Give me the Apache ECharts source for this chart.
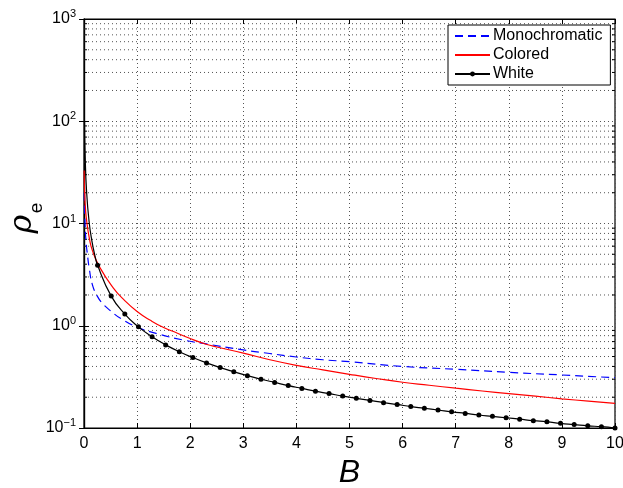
<!DOCTYPE html>
<html><head><meta charset="utf-8">
<script src="https://cdn.jsdelivr.net/npm/echarts@6/dist/echarts.min.js"></script>
<style>html,body{margin:0;padding:0;background:#fff}#c{width:623px;height:488px}</style>
</head><body><div id="c"></div>
<script>
// Monochromatic (blue dashed)
const monoB   = [0.005, 0.02, 0.04, 0.06, 0.1, 0.16, 0.25, 0.35, 0.5, 0.7, 1.0, 1.4, 1.9, 2.33, 3.0, 3.5, 4.0, 4.5, 5.0, 6.0, 7.0, 8.0, 9.0, 10.0];
const monoRho = [20, 9.8, 6.5, 5.2, 3.6, 2.5, 1.95, 1.65, 1.40, 1.17, 0.97, 0.83, 0.72, 0.66, 0.58, 0.535, 0.495, 0.465, 0.445, 0.40, 0.375, 0.35, 0.33, 0.31];
// Colored (red)
const colB   = [0.003, 0.02, 0.05, 0.1, 0.16, 0.3, 0.55, 0.75, 1.0, 1.25, 1.5, 1.75, 2.0, 2.3, 2.5, 3.0, 3.5, 4.0, 4.5, 5.0, 5.5, 6.0, 6.5, 7.0, 7.5, 8.0, 8.5, 9.0, 9.5, 10.0];
const colRho = [33, 16, 10.6, 7.2, 5.4, 3.7, 2.35, 1.8, 1.38, 1.13, 0.96, 0.85, 0.75, 0.66, 0.62, 0.54, 0.465, 0.41, 0.37, 0.335, 0.305, 0.28, 0.262, 0.245, 0.23, 0.217, 0.205, 0.193, 0.183, 0.174];
// White (black with dots) - steep start without markers
const whiteLeadB   = [0.01, 0.02, 0.05, 0.1, 0.15, 0.2];
const whiteLeadRho = [100, 50, 20, 10, 6.7, 5.0];
// White - marker points
const whiteB   = [0.256, 0.513, 0.769, 1.026, 1.282, 1.538, 1.795, 2.051, 2.308, 2.564, 2.821, 3.077, 3.333, 3.590, 3.846, 4.103, 4.359, 4.615, 4.872, 5.128, 5.385, 5.641, 5.897, 6.154, 6.410, 6.667, 6.923, 7.179, 7.436, 7.692, 7.949, 8.205, 8.462, 8.718, 8.974, 9.231, 9.487, 9.744, 10.0];
const whiteRho = [3.9, 1.95, 1.3, 0.975, 0.78, 0.65, 0.557, 0.488, 0.433, 0.39, 0.355, 0.325, 0.30, 0.279, 0.26, 0.244, 0.229, 0.217, 0.205, 0.195, 0.186, 0.177, 0.17, 0.162, 0.156, 0.15, 0.144, 0.139, 0.134, 0.13, 0.126, 0.122, 0.118, 0.115, 0.111, 0.108, 0.105, 0.103, 0.1];
// Axis ticks
const xTicks = [0,1,2,3,4,5,6,7,8,9,10];
const yMinorTicks = [0.2,0.3,0.4,0.5,0.6,0.7,0.8,0.9, 2,3,4,5,6,7,8,9, 20,30,40,50,60,70,80,90, 200,300,400,500,600,700,800,900];
// Axis titles
const xTitle = 'B';
const yTitleMain = 'ρ';
const yTitleSub = 'e';

const FONT = '"Liberation Sans", Arial, Helvetica, sans-serif';
const zip = (a, b) => a.map((v, i) => [v, b[i]]);
const whiteData = whiteLeadB.map((v, i) => ({value: [v, whiteLeadRho[i]], symbol: 'none'}))
  .concat(zip(whiteB, whiteRho));

const chart = echarts.init(document.getElementById('c'));
const dotted = {color: '#555', width: 1, type: [1, 3]};

chart.setOption({
  animation: false,
  backgroundColor: '#fff',
  textStyle: {fontFamily: FONT},
  grid: {left: 84, right: 8, top: 19, bottom: 60, outerBoundsMode: 'none', containLabel: false,
         show: true, borderColor: '#000', borderWidth: 1.2, backgroundColor: 'transparent'},
  graphic: [
    {type: 'text', x: 23, y: 224, rotation: Math.PI / 2,
     style: {text: yTitleMain, fontFamily: 'DejaVu Serif', fontStyle: 'italic', fontSize: 32, fill: '#000', align: 'center', verticalAlign: 'middle'}},
    {type: 'text', x: 37, y: 208, rotation: Math.PI / 2,
     style: {text: yTitleSub, fontFamily: FONT, fontSize: 19, fill: '#000', align: 'center', verticalAlign: 'middle'}}
  ],
  legend: {
    data: [
      {name: 'Monochromatic', itemStyle: {opacity: 0}},
      {name: 'Colored', itemStyle: {opacity: 0}},
      {name: 'White'}
    ],
    orient: 'vertical', left: 448, top: 25,
    backgroundColor: '#fff', borderColor: '#000', borderWidth: 1, borderRadius: 0,
    padding: [3, 8, 3, 6], itemGap: 3, itemWidth: 35, itemHeight: 6,
    textStyle: {fontFamily: FONT, fontSize: 16, color: '#000', lineHeight: 16, padding: [0, 0, 0, -2]}
  },
  xAxis: [{
    type: 'value', min: 0, max: 10, interval: 1,
    name: xTitle, nameLocation: 'middle', nameGap: 27,
    nameTextStyle: {fontFamily: FONT, fontSize: 32, fontStyle: 'italic', color: '#000'},
    axisLine: {lineStyle: {color: '#000', width: 1.2}},
    axisTick: {inside: true, length: 5, lineStyle: {color: '#000'}},
    axisLabel: {fontFamily: FONT, fontSize: 16, color: '#000', margin: 8},
    splitLine: {show: true, lineStyle: dotted}
  }, {
    type: 'value', min: 0, max: 10, interval: 1, position: 'top',
    axisLine: {show: true, lineStyle: {color: '#000', width: 1.2}},
    axisTick: {inside: true, length: 5, lineStyle: {color: '#000'}},
    axisLabel: {show: false}, splitLine: {show: false}
  }],
  yAxis: [{
    type: 'log', logBase: 10, min: 0.1, max: 1000,
    axisLine: {show: true, lineStyle: {color: '#000', width: 1.2}},
    axisTick: {inside: true, length: 5, lineStyle: {color: '#000'}},
    axisLabel: {
      margin: 8, color: '#000',
      formatter: v => { const e = Math.round(Math.log10(v)); return '{b|10}{s|' + (e < 0 ? '\u2212' + (-e) : e) + '}'; },
      rich: {
        b: {fontFamily: FONT, fontSize: 16, color: '#000'},
        s: {fontFamily: FONT, fontSize: 11, color: '#000', padding: [0, 0, 10, 0]}
      }
    },
    splitLine: {show: true, lineStyle: dotted}
  }, {
    type: 'log', logBase: 10, min: 0.1, max: 1000, position: 'right',
    axisLine: {show: true, lineStyle: {color: '#000', width: 1.2}},
    axisTick: {inside: true, length: 5, lineStyle: {color: '#000'}},
    axisLabel: {show: false}, splitLine: {show: false}
  }],
  series: [
    {
      name: 'minorGrid', type: 'custom', xAxisIndex: 0, yAxisIndex: 0, silent: true, z: 1,
      data: yMinorTicks.map(v => [0, v]),
      renderItem: (params, api) => {
        const cs = params.coordSys;
        const y = api.coord([0, api.value(1)])[1];
        return {type: 'group', children: [
          {type: 'line', shape: {x1: cs.x, y1: y, x2: cs.x + cs.width, y2: y}, style: {stroke: '#555', lineWidth: 1, lineDash: [1, 3]}},
          {type: 'line', shape: {x1: cs.x, y1: y, x2: cs.x + 3, y2: y}, style: {stroke: '#000', lineWidth: 1}},
          {type: 'line', shape: {x1: cs.x + cs.width - 3, y1: y, x2: cs.x + cs.width, y2: y}, style: {stroke: '#000', lineWidth: 1}}
        ]};
      }
    },
    {
      name: 'Monochromatic', type: 'line', smooth: true, symbol: 'none', z: 3,
      data: zip(monoB, monoRho),
      itemStyle: {color: '#0000ff'},
      lineStyle: {color: '#0000ff', width: 1.2, type: [8, 5]}
    },
    {
      name: 'Colored', type: 'line', smooth: true, symbol: 'none', z: 3,
      data: zip(colB, colRho),
      itemStyle: {color: '#ff0000'},
      lineStyle: {color: '#ff0000', width: 1.2}
    },
    {
      name: 'White', type: 'line', smooth: true, symbol: 'circle', symbolSize: 5, z: 4,
      data: whiteData,
      itemStyle: {color: '#000'},
      lineStyle: {color: '#000', width: 1.2}
    }
  ]
});
</script>
</body></html>
